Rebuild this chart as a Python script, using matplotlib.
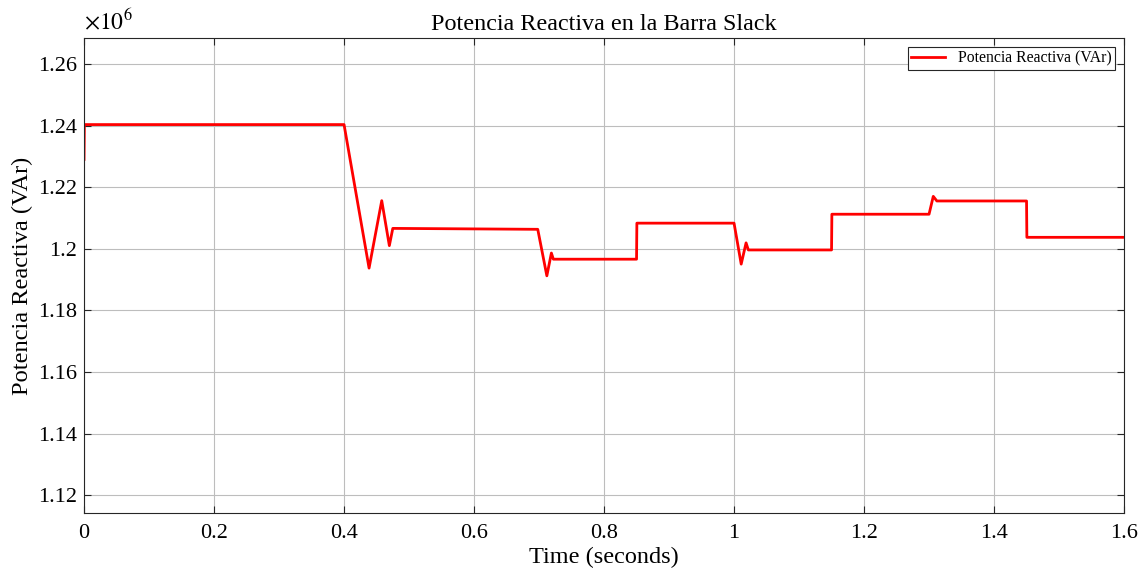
# Potencia reactiva en la barra slack
import matplotlib.pyplot as plt
import numpy as np
from matplotlib.ticker import FuncFormatter

plt.rcParams['font.family'] = ['Liberation Serif', 'DejaVu Serif']
plt.rcParams['mathtext.fontset'] = 'stix'

# datos (tiempo en s, potencia en VAr)
tiempo = [0, 0.0005, 0.4, 0.4385, 0.458, 0.4697, 0.475, 0.698, 0.712, 0.719,
          0.722, 0.85, 0.8505, 1.0, 1.011, 1.0185, 1.022, 1.150, 1.1505,
          1.300, 1.3065, 1.312, 1.45, 1.4505, 1.6]
potencia = [1.229, 1.2403, 1.2403, 1.1937, 1.2156, 1.2010, 1.2066, 1.2063,
            1.1912, 1.1986, 1.1966, 1.1966, 1.2083, 1.2083, 1.1950, 1.2019,
            1.1996, 1.1996, 1.2112, 1.2112, 1.2170, 1.2155, 1.2155, 1.2037,
            1.2037]
potencia = np.array(potencia) * 1e6

xticks = [0, 0.2, 0.4, 0.6, 0.8, 1.0, 1.2, 1.4, 1.6]
yticks = np.array([1.12, 1.14, 1.16, 1.18, 1.20, 1.22, 1.24, 1.26]) * 1e6

fig = plt.figure(figsize=(11.45, 5.77), dpi=100)
ax = fig.add_axes([0.0734, 0.1109, 0.9083, 0.8232])

ax.plot(tiempo, potencia, color='red', lw=2.0, label='Potencia Reactiva (VAr)')

ax.set_xlim(0, 1.6)
ax.set_ylim(1.1142e6, 1.2684e6)
ax.set_xticks(xticks)
ax.set_yticks(yticks)
ax.xaxis.set_major_formatter(FuncFormatter(lambda v, _: f"{v:g}"))
ax.yaxis.set_major_formatter(FuncFormatter(lambda v, _: f"{v / 1e6:g}"))
ax.tick_params(direction='in', top=True, right=True, labelsize=16,
               length=5, width=0.8, color='#262626', pad=8)
ax.tick_params(axis='y', pad=5)
ax.grid(True, color='#bdbdbd', lw=0.8)
for s in ax.spines.values():
    s.set_color('#262626')
    s.set_linewidth(0.8)

ax.set_title('Potencia Reactiva en la Barra Slack', fontsize=17.4, pad=6)
ax.set_xlabel('Time (seconds)', fontsize=17.5, labelpad=3)
ax.set_ylabel('Potencia Reactiva (VAr)', fontsize=17.6, labelpad=4)
ax.text(0.0, 1.008, r'$\times10^{6}$', transform=ax.transAxes, fontsize=17,
        ha='left', va='bottom')

leg = ax.legend(loc='upper right', fontsize=11.3, fancybox=False, framealpha=1,
                edgecolor='#262626', borderpad=0.2, handlelength=2.2,
                borderaxespad=0.6)
leg.get_frame().set_linewidth(0.8)

fig.savefig('out.png', dpi=100)
